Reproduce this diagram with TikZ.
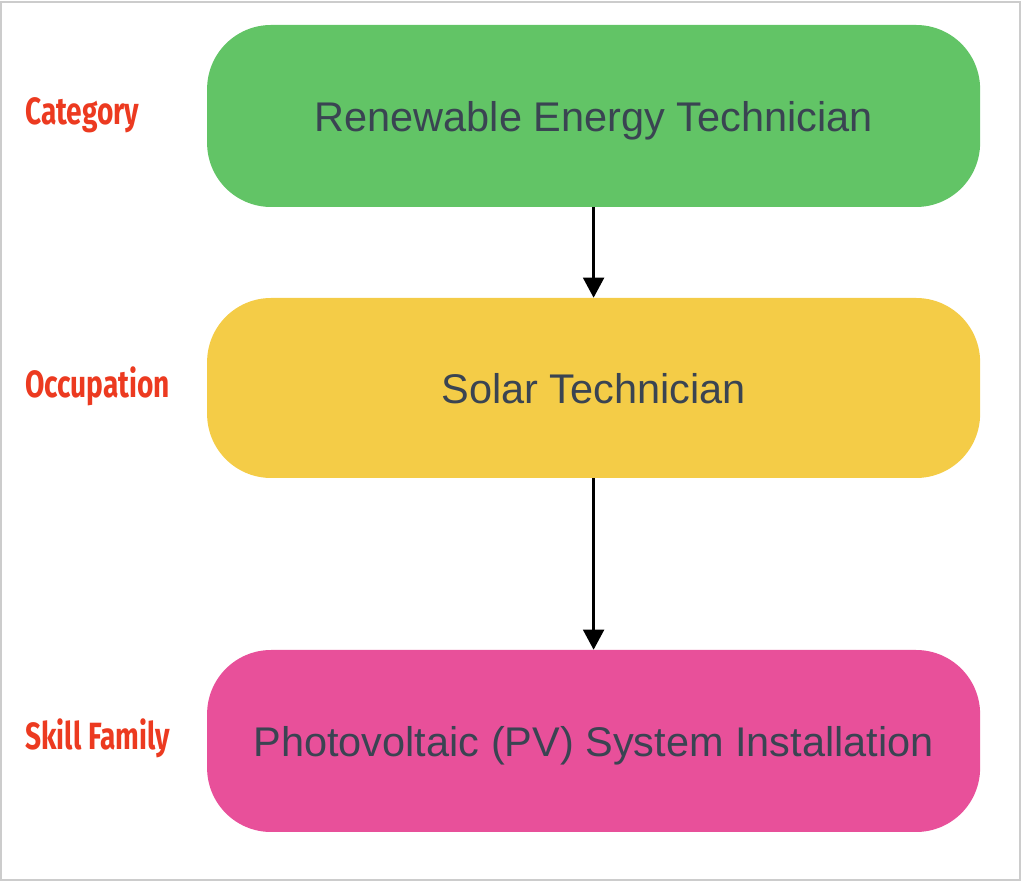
\documentclass[tikz,border=0pt]{standalone}
\usepackage{fontspec}
\setmainfont{Liberation Sans}
\newfontfamily\levelfont[FakeStretch=0.74]{Fira Sans}
\usetikzlibrary{arrows.meta}
\definecolor{catgreen}{HTML}{62C466}
\definecolor{occyellow}{HTML}{F4CC47}
\definecolor{skillpink}{HTML}{E8509A}
\definecolor{boxtext}{HTML}{3A4452}
\definecolor{levelred}{HTML}{EC3A20}

\begin{document}
\begin{tikzpicture}[
  levelbox/.style={rounded corners=1.6cm, minimum width=19.325cm, minimum height=4.55cm,
    text depth=0pt, text=boxtext, font=\fontsize{29.5}{34}\selectfont},
  levellabel/.style={anchor=base west, text=levelred, inner sep=0pt,
    font=\levelfont\bfseries\fontsize{27}{32}\selectfont},
  flow/.style={line width=1.8pt, -{Triangle[width=0.52cm,length=0.5cm]}}]
\useasboundingbox (0,0) rectangle (25.6,22.05);
\draw[line width=1.5pt, black!20] (0.03,0.05) rectangle (25.5,22.0);

\node[levelbox, fill=catgreen] (cat) at (14.84,19.15) {Renewable Energy Technician};
\node[levelbox, fill=occyellow, minimum height=4.5cm] (occ) at (14.84,12.35) {Solar Technician};
\node[levelbox, fill=skillpink] (skill) at (14.84,3.525) {Photovoltaic (PV) System Installation};

\node[levellabel] (catlabel) at (0.625,18.93) {Category};
\node[levellabel] (occlabel) at (0.625,12.12) {Occupation};
\node[levellabel] (skilllabel) at (0.625,3.3) {Skill Family};

\draw[flow] (cat) -- (occ);
\draw[flow] (occ) -- (skill);
\end{tikzpicture}
\end{document}
